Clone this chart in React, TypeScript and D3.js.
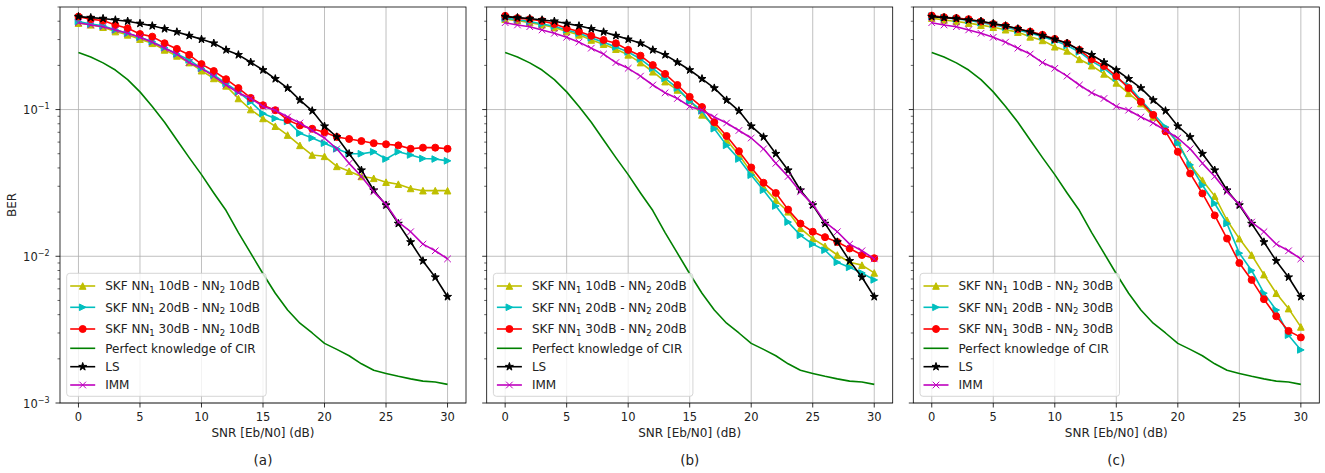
import * as d3 from "d3";
import React from "react";

// SNR axis (dB)
const snr = [0, 1, 2, 3, 4, 5, 6, 7, 8, 9, 10, 11, 12, 13, 14, 15, 16, 17, 18, 19, 20, 21, 22, 23, 24, 25, 26, 27, 28, 29, 30];

// curves shared by all three panels
const perfect = [0.245, 0.228, 0.208, 0.186, 0.16, 0.132, 0.105, 0.082, 0.062, 0.047, 0.036, 0.027, 0.0205, 0.0145, 0.0105, 0.0076, 0.0056, 0.0043, 0.0035, 0.003, 0.00255, 0.00232, 0.0021, 0.00185, 0.00167, 0.00159, 0.00152, 0.00146, 0.00141, 0.00139, 0.00134];
const ls = [0.43, 0.423, 0.417, 0.408, 0.4, 0.386, 0.372, 0.355, 0.338, 0.319, 0.301, 0.283, 0.255, 0.236, 0.21, 0.186, 0.162, 0.14, 0.116, 0.098, 0.077, 0.065, 0.05, 0.0386, 0.0282, 0.0223, 0.0167, 0.0125, 0.0093, 0.0072, 0.0053];
const imm = [0.391, 0.377, 0.367, 0.349, 0.331, 0.311, 0.288, 0.262, 0.239, 0.209, 0.191, 0.169, 0.147, 0.13, 0.119, 0.105, 0.099, 0.089, 0.081, 0.072, 0.064, 0.054, 0.043, 0.035, 0.0275, 0.0226, 0.0171, 0.0147, 0.0121, 0.0109, 0.0096];

// (a) NN2 trained at 10dB
const skfA10 = [0.388, 0.378, 0.364, 0.34, 0.323, 0.302, 0.283, 0.255, 0.232, 0.209, 0.184, 0.163, 0.145, 0.119, 0.1, 0.087, 0.077, 0.067, 0.057, 0.049, 0.048, 0.041, 0.038, 0.035, 0.034, 0.032, 0.031, 0.029, 0.028, 0.028, 0.028];
const skfA20 = [0.398, 0.383, 0.372, 0.349, 0.331, 0.311, 0.29, 0.264, 0.239, 0.218, 0.191, 0.172, 0.151, 0.132, 0.113, 0.094, 0.087, 0.083, 0.069, 0.064, 0.059, 0.054, 0.05, 0.05, 0.0515, 0.046, 0.0515, 0.049, 0.0464, 0.046, 0.0447];
const skfA30 = [0.43, 0.413, 0.404, 0.377, 0.358, 0.327, 0.314, 0.283, 0.259, 0.236, 0.204, 0.183, 0.161, 0.14, 0.12, 0.107, 0.099, 0.085, 0.078, 0.074, 0.07, 0.065, 0.063, 0.061, 0.059, 0.058, 0.057, 0.054, 0.055, 0.055, 0.054];

// (b) NN2 trained at 20dB
const skfB10 = [0.413, 0.404, 0.391, 0.378, 0.362, 0.34, 0.323, 0.298, 0.279, 0.258, 0.236, 0.209, 0.181, 0.155, 0.136, 0.116, 0.092, 0.078, 0.062, 0.049, 0.0376, 0.0297, 0.0241, 0.0201, 0.0155, 0.0132, 0.0117, 0.0102, 0.0091, 0.0087, 0.0077];
const skfB20 = [0.42, 0.41, 0.398, 0.383, 0.37, 0.349, 0.331, 0.308, 0.288, 0.267, 0.247, 0.221, 0.191, 0.163, 0.14, 0.114, 0.098, 0.074, 0.057, 0.046, 0.0357, 0.0282, 0.022, 0.0171, 0.0139, 0.0121, 0.011, 0.0091, 0.0084, 0.0077, 0.0069];
const skfB30 = [0.435, 0.42, 0.413, 0.402, 0.383, 0.358, 0.34, 0.318, 0.298, 0.283, 0.255, 0.233, 0.201, 0.175, 0.147, 0.122, 0.104, 0.082, 0.066, 0.052, 0.0403, 0.0317, 0.027, 0.0208, 0.0167, 0.0147, 0.0135, 0.0125, 0.0113, 0.0102, 0.0097];

// (c) NN2 trained at 30dB
const skfC10 = [0.42, 0.408, 0.398, 0.388, 0.376, 0.364, 0.35, 0.337, 0.313, 0.296, 0.268, 0.251, 0.22, 0.199, 0.175, 0.152, 0.129, 0.11, 0.089, 0.074, 0.06, 0.042, 0.033, 0.0257, 0.0176, 0.0132, 0.0102, 0.0075, 0.0056, 0.0044, 0.0033];
const skfC20 = [0.433, 0.423, 0.415, 0.406, 0.391, 0.378, 0.364, 0.347, 0.333, 0.314, 0.295, 0.273, 0.247, 0.214, 0.191, 0.164, 0.145, 0.116, 0.094, 0.076, 0.059, 0.042, 0.0305, 0.0229, 0.0167, 0.0105, 0.008, 0.0056, 0.0043, 0.0029, 0.0023];
const skfC30 = [0.437, 0.426, 0.42, 0.413, 0.398, 0.383, 0.372, 0.354, 0.34, 0.323, 0.303, 0.283, 0.255, 0.22, 0.198, 0.169, 0.14, 0.113, 0.092, 0.071, 0.0515, 0.0367, 0.0268, 0.019, 0.0132, 0.009, 0.0069, 0.0051, 0.0039, 0.0031, 0.0028];

const panelLabels = ["(a)", "(b)", "(c)"];
const nn2Labels = ["10dB", "20dB", "30dB"];
const xTicks = [0, 5, 10, 15, 20, 25, 30];
const yMajor = [1e-3, 1e-2, 1e-1];
const yMajorExp = ["\u22123", "\u22122", "\u22121"];

const FONT = "DejaVu Sans, sans-serif";
const FS = 12; // labels + legend
const TICK_FS = 11.5;
const PW = 406;
const PH = 396;
const TOP = 7;
const lefts = [60, 486.7, 913.3];

const x = d3.scaleLinear().domain([-1.5, 31.5]).range([0, PW]);
const y = d3.scaleLog().domain([1e-3, 0.5]).range([PH, 0]);
const yMinor = [2, 3, 4, 5, 6, 7, 8, 9].flatMap((m) => [m * 1e-3, m * 1e-2, m * 1e-1]).filter((v) => v <= 0.5);

function starPath(R: number) {
  const r = R * 0.382;
  const pts: string[] = [];
  for (let i = 0; i < 10; i++) {
    const a = (Math.PI / 5) * i - Math.PI / 2;
    const rad = i % 2 === 0 ? R : r;
    pts.push(`${(rad * Math.cos(a)).toFixed(2)},${(rad * Math.sin(a)).toFixed(2)}`);
  }
  return "M" + pts.join("L") + "Z";
}

const s = 3.3;
const markerPaths: Record<string, string> = {
  triUp: `M0,${-s}L${-s},${s}L${s},${s}Z`,
  triRight: `M${s},0L${-s},${-s}L${-s},${s}Z`,
  star: starPath(4.2),
  x: `M${-s},${-s}L${s},${s}M${-s},${s}L${s},${-s}`,
};

function Marker({ kind, color, cx, cy }: { kind: string; color: string; cx: number; cy: number }) {
  if (kind === "none") return null;
  if (kind === "circle") return <circle cx={cx} cy={cy} r={3.5} fill={color} stroke={color} strokeWidth={1} />;
  return (
    <path
      d={markerPaths[kind]}
      transform={`translate(${cx},${cy})`}
      fill={kind === "x" ? "none" : color}
      stroke={color}
      strokeWidth={1}
    />
  );
}

function SkfLabel({ nn1, nn2 }: { nn1: string; nn2: string }) {
  return (
    <>
      <tspan>SKF NN</tspan>
      <tspan fontSize={8.5} dy={2.8}>1</tspan>
      <tspan dy={-2.8}>{` ${nn1} - NN`}</tspan>
      <tspan fontSize={8.5} dy={2.8}>2</tspan>
      <tspan dy={-2.8}>{` ${nn2}`}</tspan>
    </>
  );
}

function Panel({ idx }: { idx: number }) {
  const left = lefts[idx];
  const nn2 = nn2Labels[idx];
  const skf = [
    [skfA10, skfA20, skfA30],
    [skfB10, skfB20, skfB30],
    [skfC10, skfC20, skfC30],
  ][idx];
  const series = [
    { data: skf[0], color: "#bfbf00", marker: "triUp", label: <SkfLabel nn1="10dB" nn2={nn2} /> },
    { data: skf[1], color: "#00bfbf", marker: "triRight", label: <SkfLabel nn1="20dB" nn2={nn2} /> },
    { data: skf[2], color: "#ff0000", marker: "circle", label: <SkfLabel nn1="30dB" nn2={nn2} /> },
    { data: perfect, color: "#008000", marker: "none", label: "Perfect knowledge of CIR" },
    { data: ls, color: "#000000", marker: "star", label: "LS" },
    { data: imm, color: "#bf00bf", marker: "x", label: "IMM" },
  ];
  const line = d3
    .line<number>()
    .x((_, i) => x(snr[i]))
    .y((d) => y(d));

  const legendRows = [12.7, 34, 55.7, 75, 93.4, 111.7];

  return (
    <g transform={`translate(${left},${TOP})`}>
      {/* grid */}
      {xTicks.map((t) => (
        <line key={"gx" + t} x1={x(t)} x2={x(t)} y1={0} y2={PH} stroke="#b0b0b0" strokeWidth={0.8} />
      ))}
      {yMajor.map((t) => (
        <line key={"gy" + t} x1={0} x2={PW} y1={y(t)} y2={y(t)} stroke="#b0b0b0" strokeWidth={0.8} />
      ))}

      {/* series */}
      {series.map((sr, si) => (
        <g key={"s" + si}>
          <path d={line(sr.data) || ""} fill="none" stroke={sr.color} strokeWidth={1.6} strokeLinejoin="round" />
          {sr.data.map((v, i) => (
            <Marker key={i} kind={sr.marker} color={sr.color} cx={x(snr[i])} cy={y(v)} />
          ))}
        </g>
      ))}

      {/* frame */}
      <rect x={0} y={0} width={PW} height={PH} fill="none" stroke="#000" strokeWidth={0.8} />

      {/* x ticks */}
      {xTicks.map((t) => (
        <g key={"tx" + t} transform={`translate(${x(t)},${PH})`}>
          <line y1={0} y2={4.5} stroke="#000" strokeWidth={0.8} />
          <text y={18} textAnchor="middle" fontSize={TICK_FS} fontFamily={FONT} fill="#222">
            {t}
          </text>
        </g>
      ))}
      {/* y ticks */}
      {yMajor.map((t, i) => (
        <g key={"ty" + t} transform={`translate(0,${y(t)})`}>
          <line x1={-4.5} x2={0} stroke="#000" strokeWidth={0.8} />
          {idx === 0 && (
            <text x={-10.5} y={4.5} textAnchor="end" fontSize={TICK_FS} fontFamily={FONT} fill="#222">
              <tspan>10</tspan>
              <tspan fontSize={8} dy={-5}>{yMajorExp[i]}</tspan>
            </text>
          )}
        </g>
      ))}
      {yMinor.map((t) => (
        <line key={"my" + t} x1={-2.5} x2={0} y1={y(t)} y2={y(t)} stroke="#000" strokeWidth={0.6} />
      ))}

      {/* axis labels */}
      <text x={PW / 2} y={PH + 34} textAnchor="middle" fontSize={FS} fontFamily={FONT} fill="#222">
        SNR [Eb/N0] (dB)
      </text>
      <text x={PW / 2} y={PH + 62} textAnchor="middle" fontSize={13.5} fontFamily={FONT} fill="#222">
        {panelLabels[idx]}
      </text>
      {idx === 0 && (
        <text
          transform={`translate(${12 - left},${PH / 2}) rotate(-90)`}
          textAnchor="middle"
          dy={4}
          fontSize={FS}
          fontFamily={FONT}
          fill="#222"
        >
          BER
        </text>
      )}

      {/* legend */}
      <g transform={`translate(6.7,${273.3 - TOP})`}>
        <rect x={0} y={0} width={199.5} height={123} rx={3} fill="#fff" fillOpacity={0.8} stroke="#cccccc" strokeWidth={0.8} />
        {series.map((sr, si) => (
          <g key={"lg" + si} transform={`translate(0,${legendRows[si]})`}>
            <line x1={3.5} x2={28.5} stroke={sr.color} strokeWidth={1.6} />
            <Marker kind={sr.marker} color={sr.color} cx={16} cy={0} />
            <text x={38.5} y={4.3} fontSize={FS} fontFamily={FONT} fill="#222">
              {sr.label}
            </text>
          </g>
        ))}
      </g>
    </g>
  );
}

export default function App() {
  return (
    <svg
      width={1325}
      height={473}
      style={{ position: "absolute", left: 0, top: 0, background: "#fff" }}
    >
      <rect width={1325} height={473} fill="#fff" />
      {[0, 1, 2].map((i) => (
        <Panel key={i} idx={i} />
      ))}
    </svg>
  );
}
